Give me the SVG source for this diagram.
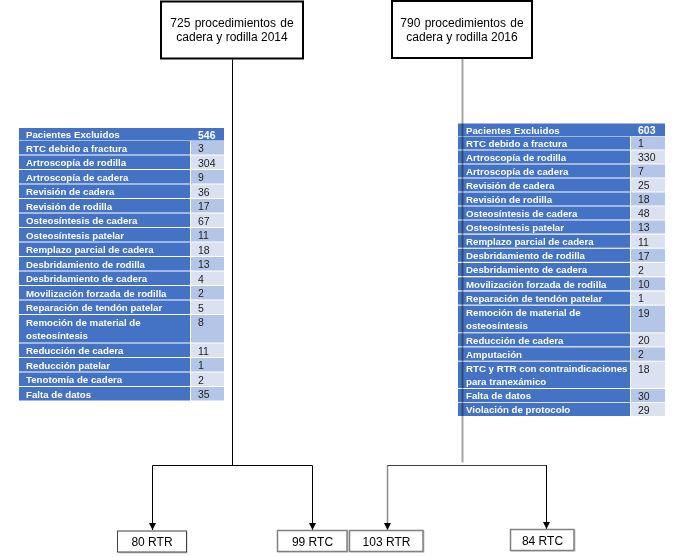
<svg xmlns="http://www.w3.org/2000/svg" width="698" height="557" viewBox="0 0 698 557">
<style>
.bg{fill:#ffffff}
.top{fill:#ffffff;stroke:#000000;stroke-width:2}
.bot{fill:#ffffff;stroke:#7f7f7f;stroke-width:1.5}
.shadow{fill:#c8c8c8}
.box-text{font-family:"Liberation Sans",Arial,sans-serif;font-size:12px;fill:#000000;text-anchor:middle}
.hdr{fill:#4472c4}
.lab{fill:#4472c4}
.v1{fill:#b4c6e7}
.v2{fill:#dae2f2}
.lt{font-family:"Liberation Sans",Arial,sans-serif;font-size:9.7px;font-weight:bold;fill:#ffffff}
.vt{font-family:"Liberation Sans",Arial,sans-serif;font-size:10.5px;fill:#222222}
.vh{font-family:"Liberation Sans",Arial,sans-serif;font-size:10.5px;font-weight:bold;fill:#ffffff}
.c{fill:none;stroke:#000000;stroke-width:1}
.cg{fill:none;stroke:#a6a6a6;stroke-width:2;mix-blend-mode:multiply}
.cg2{fill:none;stroke:#8c8c8c;stroke-width:1.5}
</style>
<defs>
<marker id="arr" viewBox="0 0 10 10" refX="10" refY="5" markerWidth="7" markerHeight="7" markerUnits="userSpaceOnUse" orient="auto">
<path d="M0,0 L10,5 L0,10 Z" fill="#000000"/>
</marker>
</defs>
<rect class="bg" x="0" y="0" width="698" height="557"/>

<g id="box-2014">
<rect class="top" x="161" y="1.5" width="142" height="57"/>
<text class="box-text" x="232" y="26.5" word-spacing="1">725 procedimientos de</text>
<text class="box-text" x="232" y="40.5">cadera y rodilla 2014</text>
</g>

<g id="box-2016">
<rect class="top" x="392" y="1" width="140" height="57"/>
<text class="box-text" x="462" y="26.5" word-spacing="1">790 procedimientos de</text>
<text class="box-text" x="462" y="40.5">cadera y rodilla 2016</text>
</g>

<g id="table-2014">
<rect class="hdr" x="19" y="128" width="205" height="12.5"/>
<text class="lt" x="26" y="138">Pacientes Excluidos</text>
<text class="vh" x="198" y="138.5">546</text>

<rect class="lab" x="19" y="141" width="171" height="13.5"/><rect class="v1" x="191" y="141" width="33" height="13.5"/>
<text class="lt" x="26" y="151.5">RTC debido a fractura</text><text class="vt" x="198" y="152">3</text>

<rect class="lab" x="19" y="155.5" width="171" height="13.5"/><rect class="v2" x="191" y="155.5" width="33" height="13.5"/>
<text class="lt" x="26" y="166">Artroscopía de rodilla</text><text class="vt" x="198" y="166.5">304</text>

<rect class="lab" x="19" y="170" width="171" height="13.5"/><rect class="v1" x="191" y="170" width="33" height="13.5"/>
<text class="lt" x="26" y="180.5">Artroscopía de cadera</text><text class="vt" x="198" y="181">9</text>

<rect class="lab" x="19" y="184.5" width="171" height="13.5"/><rect class="v2" x="191" y="184.5" width="33" height="13.5"/>
<text class="lt" x="26" y="195">Revisión de cadera</text><text class="vt" x="198" y="195.5">36</text>

<rect class="lab" x="19" y="199" width="171" height="13.5"/><rect class="v1" x="191" y="199" width="33" height="13.5"/>
<text class="lt" x="26" y="209.5">Revisión de rodilla</text><text class="vt" x="198" y="210">17</text>

<rect class="lab" x="19" y="213.5" width="171" height="13.5"/><rect class="v2" x="191" y="213.5" width="33" height="13.5"/>
<text class="lt" x="26" y="224">Osteosíntesis de cadera</text><text class="vt" x="198" y="224.5">67</text>

<rect class="lab" x="19" y="228" width="171" height="13.5"/><rect class="v1" x="191" y="228" width="33" height="13.5"/>
<text class="lt" x="26" y="238.5">Osteosíntesis patelar</text><text class="vt" x="198" y="239">11</text>

<rect class="lab" x="19" y="242.5" width="171" height="13.5"/><rect class="v2" x="191" y="242.5" width="33" height="13.5"/>
<text class="lt" x="26" y="253">Remplazo parcial de cadera</text><text class="vt" x="198" y="253.5">18</text>

<rect class="lab" x="19" y="257" width="171" height="13.5"/><rect class="v1" x="191" y="257" width="33" height="13.5"/>
<text class="lt" x="26" y="267.5">Desbridamiento de rodilla</text><text class="vt" x="198" y="268">13</text>

<rect class="lab" x="19" y="271.5" width="171" height="13.5"/><rect class="v2" x="191" y="271.5" width="33" height="13.5"/>
<text class="lt" x="26" y="282">Desbridamiento de cadera</text><text class="vt" x="198" y="282.5">4</text>

<rect class="lab" x="19" y="286" width="171" height="13.5"/><rect class="v1" x="191" y="286" width="33" height="13.5"/>
<text class="lt" x="26" y="296.5">Movilización forzada de rodilla</text><text class="vt" x="198" y="297">2</text>

<rect class="lab" x="19" y="300.5" width="171" height="13.5"/><rect class="v2" x="191" y="300.5" width="33" height="13.5"/>
<text class="lt" x="26" y="311">Reparación de tendón patelar</text><text class="vt" x="198" y="311.5">5</text>

<rect class="lab" x="19" y="315" width="171" height="27.5"/><rect class="v1" x="191" y="315" width="33" height="27.5"/>
<text class="lt" x="26" y="325.5">Remoción de material de</text>
<text class="lt" x="26" y="338.5">osteosíntesis</text><text class="vt" x="198" y="326">8</text>

<rect class="lab" x="19" y="343.5" width="171" height="13.5"/><rect class="v2" x="191" y="343.5" width="33" height="13.5"/>
<text class="lt" x="26" y="354">Reducción de cadera</text><text class="vt" x="198" y="354.5">11</text>

<rect class="lab" x="19" y="358" width="171" height="13.5"/><rect class="v1" x="191" y="358" width="33" height="13.5"/>
<text class="lt" x="26" y="368.5">Reducción patelar</text><text class="vt" x="198" y="369">1</text>

<rect class="lab" x="19" y="372.5" width="171" height="13.5"/><rect class="v2" x="191" y="372.5" width="33" height="13.5"/>
<text class="lt" x="26" y="383">Tenotomía de cadera</text><text class="vt" x="198" y="383.5">2</text>

<rect class="lab" x="19" y="387" width="171" height="13.5"/><rect class="v1" x="191" y="387" width="33" height="13.5"/>
<text class="lt" x="26" y="397.5">Falta de datos</text><text class="vt" x="198" y="398">35</text>
</g>

<g id="table-2016">
<rect class="hdr" x="458" y="123.5" width="207" height="12.5"/>
<text class="lt" x="466" y="133.5">Pacientes Excluidos</text>
<text class="vh" x="638" y="134">603</text>

<rect class="lab" x="458" y="136.5" width="172" height="13"/><rect class="v1" x="631" y="136.5" width="34" height="13"/>
<text class="lt" x="466" y="146.8">RTC debido a fractura</text><text class="vt" x="638" y="147.3">1</text>

<rect class="lab" x="458" y="150.5" width="172" height="13"/><rect class="v2" x="631" y="150.5" width="34" height="13"/>
<text class="lt" x="466" y="160.8">Artroscopía de rodilla</text><text class="vt" x="638" y="161.3">330</text>

<rect class="lab" x="458" y="164.5" width="172" height="13"/><rect class="v1" x="631" y="164.5" width="34" height="13"/>
<text class="lt" x="466" y="174.8">Artroscopía de cadera</text><text class="vt" x="638" y="175.3">7</text>

<rect class="lab" x="458" y="178.5" width="172" height="13"/><rect class="v2" x="631" y="178.5" width="34" height="13"/>
<text class="lt" x="466" y="188.8">Revisión de cadera</text><text class="vt" x="638" y="189.3">25</text>

<rect class="lab" x="458" y="192.5" width="172" height="13"/><rect class="v1" x="631" y="192.5" width="34" height="13"/>
<text class="lt" x="466" y="202.8">Revisión de rodilla</text><text class="vt" x="638" y="203.3">18</text>

<rect class="lab" x="458" y="206.5" width="172" height="13"/><rect class="v2" x="631" y="206.5" width="34" height="13"/>
<text class="lt" x="466" y="216.8">Osteosíntesis de cadera</text><text class="vt" x="638" y="217.3">48</text>

<rect class="lab" x="458" y="220.5" width="172" height="13"/><rect class="v1" x="631" y="220.5" width="34" height="13"/>
<text class="lt" x="466" y="230.8">Osteosíntesis patelar</text><text class="vt" x="638" y="231.3">13</text>

<rect class="lab" x="458" y="234.7" width="172" height="13"/><rect class="v2" x="631" y="234.7" width="34" height="13"/>
<text class="lt" x="466" y="245">Remplazo parcial de cadera</text><text class="vt" x="638" y="245.5">11</text>

<rect class="lab" x="458" y="248.8" width="172" height="13"/><rect class="v1" x="631" y="248.8" width="34" height="13"/>
<text class="lt" x="466" y="259.1">Desbridamiento de rodilla</text><text class="vt" x="638" y="259.6">17</text>

<rect class="lab" x="458" y="263" width="172" height="13"/><rect class="v2" x="631" y="263" width="34" height="13"/>
<text class="lt" x="466" y="273.3">Desbridamiento de cadera</text><text class="vt" x="638" y="273.8">2</text>

<rect class="lab" x="458" y="277.3" width="172" height="13"/><rect class="v1" x="631" y="277.3" width="34" height="13"/>
<text class="lt" x="466" y="287.6">Movilización forzada de rodilla</text><text class="vt" x="638" y="288.1">10</text>

<rect class="lab" x="458" y="291.6" width="172" height="13"/><rect class="v2" x="631" y="291.6" width="34" height="13"/>
<text class="lt" x="466" y="301.9">Reparación de tendón patelar</text><text class="vt" x="638" y="302.4">1</text>

<rect class="lab" x="458" y="305.7" width="172" height="26.6"/><rect class="v1" x="631" y="305.7" width="34" height="26.6"/>
<text class="lt" x="466" y="316">Remoción de material de</text>
<text class="lt" x="466" y="329">osteosíntesis</text><text class="vt" x="638" y="316.5">19</text>

<rect class="lab" x="458" y="333.3" width="172" height="13"/><rect class="v2" x="631" y="333.3" width="34" height="13"/>
<text class="lt" x="466" y="343.6">Reducción de cadera</text><text class="vt" x="638" y="344.1">20</text>

<rect class="lab" x="458" y="347.4" width="172" height="13.3"/><rect class="v1" x="631" y="347.4" width="34" height="13.3"/>
<text class="lt" x="466" y="357.7">Amputación</text><text class="vt" x="638" y="358.2">2</text>

<rect class="lab" x="458" y="361.7" width="172" height="26.3"/><rect class="v2" x="631" y="361.7" width="34" height="26.3"/>
<text class="lt" x="466" y="372">RTC y RTR con contraindicaciones</text>
<text class="lt" x="466" y="385">para tranexámico</text><text class="vt" x="638" y="372.5">18</text>

<rect class="lab" x="458" y="389" width="172" height="13"/><rect class="v1" x="631" y="389" width="34" height="13"/>
<text class="lt" x="466" y="399.3">Falta de datos</text><text class="vt" x="638" y="399.8">30</text>

<rect class="lab" x="458" y="402.8" width="172" height="13.2"/><rect class="v2" x="631" y="402.8" width="34" height="13.2"/>
<text class="lt" x="466" y="413.1">Violación de protocolo</text><text class="vt" x="638" y="413.6">29</text>
</g>

<g id="connectors">
<path class="c" d="M232.5,59.5 V465.5"/>
<path class="c" d="M152.5,465.5 H312.5"/>
<path class="c" d="M152.5,465.5 V530" marker-end="url(#arr)"/>
<path class="c" d="M312.5,465.5 V530" marker-end="url(#arr)"/>
<path class="cg" d="M462.5,58.5 V462.5"/>
<path class="c" d="M387,465.5 H547" style="stroke:#404040"/>
<path class="cg2" d="M387.5,465.5 V530" marker-end="url(#arr)"/>
<path class="c" d="M546.5,465.5 V529" marker-end="url(#arr)"/>
</g>

<g id="box-80rtr">
<rect class="shadow" x="118.5" y="532" width="69" height="21.5"/>
<rect class="bot" x="117.5" y="531" width="69" height="21" style="stroke:#404040;stroke-width:1"/>
<text class="box-text" x="152" y="546">80 RTR</text>
</g>

<g id="box-99rtc">
<rect class="shadow" x="278.5" y="531" width="70" height="21.5"/>
<rect class="bot" x="277.5" y="530.5" width="69.5" height="21"/>
<text class="box-text" x="312.5" y="545.5">99 RTC</text>
</g>

<g id="box-103rtr">
<rect class="shadow" x="350.5" y="531" width="74" height="21.5"/>
<rect class="bot" x="349.5" y="530.5" width="73.5" height="21"/>
<text class="box-text" x="386.5" y="545.5">103 RTR</text>
</g>

<g id="box-84rtc">
<rect class="shadow" x="511.5" y="530" width="64" height="21.5"/>
<rect class="bot" x="510.5" y="529.5" width="63.5" height="21"/>
<text class="box-text" x="542.5" y="544.5">84 RTC</text>
</g>
</svg>
